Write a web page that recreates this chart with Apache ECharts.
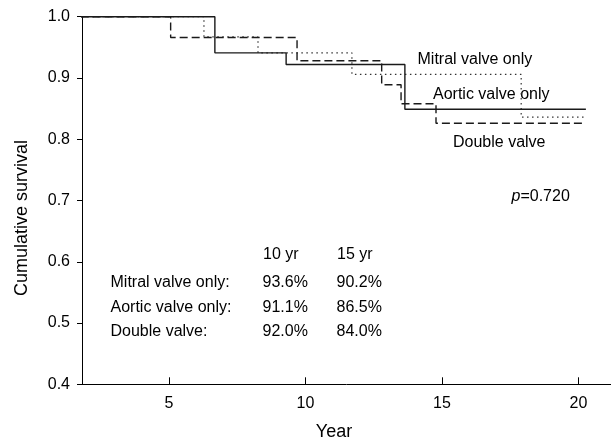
<!DOCTYPE html>
<html>
<head>
<meta charset="utf-8">
<script src="https://cdn.jsdelivr.net/npm/echarts@6/dist/echarts.min.js"></script>
<style>html,body{margin:0;padding:0;background:#fff}#c{width:611px;height:443px}</style>
</head>
<body>
<div id="c"></div>
<script>
// Kaplan–Meier step data: [year, cumulative survival] at each change
const mitralOnly = [[0,1.0],[6.28,0.967],[8.26,0.941],[11.7,0.906],[17.9,0.836],[20.27,0.836]];
const aorticOnly = [[0,1.0],[6.68,0.941],[9.29,0.922],[13.64,0.849],[20.27,0.849]];
const doubleValve = [[0,1.0],[5.06,0.966],[9.69,0.928],[12.79,0.889],[13.5,0.858],[14.78,0.826],[20.27,0.826]];

const xTicks = [5,10,15,20];
const yTicks = [0.4,0.5,0.6,0.7,0.8,0.9,1.0];

const seriesLabels = ['Mitral valve only','Aortic valve only','Double valve'];
const pValue = '0.720';
const tableHeader = ['10 yr','15 yr'];
const tableRows = ['Mitral valve only:','Aortic valve only:','Double valve:'];
const tenYear = ['93.6%','91.1%','92.0%'];
const fifteenYear = ['90.2%','86.5%','84.0%'];

const FONT = '"Liberation Sans", Arial, sans-serif';
const chart = echarts.init(document.getElementById('c'));

function txt(text, x, y, size, align, extra) {
  return Object.assign({
    type: 'text', x: x, y: y,
    style: { text: text, font: size + 'px ' + FONT, fill: '#000', align: align || 'left', verticalAlign: 'middle' }
  }, extra || {});
}

const graphics = [];
graphics.push(txt(seriesLabels[0], 417.5, 60, 16));
graphics.push(txt(seriesLabels[1], 433, 95, 16));
graphics.push(txt(seriesLabels[2], 453, 143, 16));
graphics.push({
  type: 'text', x: 511.5, y: 197,
  style: {
    text: '{i|p}{n|=' + pValue + '}',
    verticalAlign: 'middle',
    rich: {
      i: { font: 'italic 16px ' + FONT, fill: '#000' },
      n: { font: '16px ' + FONT, fill: '#000' }
    }
  }
});
graphics.push(txt(tableHeader[0], 263, 255, 16));
graphics.push(txt(tableHeader[1], 337, 255, 16));
const rowY = [283, 308, 332];
tableRows.forEach((r, i) => {
  graphics.push(txt(r, 110.5, rowY[i], 16));
  graphics.push(txt(tenYear[i], 262.5, rowY[i], 16));
  graphics.push(txt(fifteenYear[i], 336.5, rowY[i], 16));
});
graphics.push(txt('Cumulative survival', 22, 218, 18, 'center', { rotation: Math.PI / 2 }));
graphics.push(txt('Year', 334, 432, 18, 'center'));

const lineCol = '#1a1a1a';
chart.setOption({
  animation: false,
  backgroundColor: '#fff',
  grid: { left: 82, top: 16.7, right: 0, bottom: 58.7, containLabel: false },
  xAxis: {
    type: 'value', min: 1.813, max: 21.19,
    axisLine: { show: true, onZero: false, lineStyle: { color: '#000', width: 1 } },
    axisTick: { show: true, inside: true, length: 7, customValues: xTicks, lineStyle: { color: '#000' } },
    axisLabel: { customValues: xTicks, margin: 11, color: '#000', fontSize: 16, fontFamily: FONT },
    splitLine: { show: false }
  },
  yAxis: {
    type: 'value', min: 0.4, max: 1.0,
    axisLine: { show: true, onZero: false, lineStyle: { color: '#000', width: 1 } },
    axisTick: { show: true, inside: false, length: 5, customValues: yTicks, lineStyle: { color: '#000' } },
    axisLabel: { customValues: yTicks, margin: 12, color: '#000', fontSize: 16, fontFamily: FONT,
      formatter: v => v.toFixed(1) },
    splitLine: { show: false }
  },
  series: [
    { name: seriesLabels[0], type: 'line', step: 'end', data: mitralOnly, symbol: 'none', clip: true,
      lineStyle: { color: '#333', width: 1.2, type: [1.5, 3.5] } },
    { name: seriesLabels[1], type: 'line', step: 'end', data: aorticOnly, symbol: 'none', clip: true,
      lineStyle: { color: lineCol, width: 1.4, type: 'solid' } },
    { name: seriesLabels[2], type: 'line', step: 'end', data: doubleValve, symbol: 'none', clip: true,
      lineStyle: { color: lineCol, width: 1.4, type: [8, 4] } }
  ],
  graphic: graphics
});
</script>
</body>
</html>
